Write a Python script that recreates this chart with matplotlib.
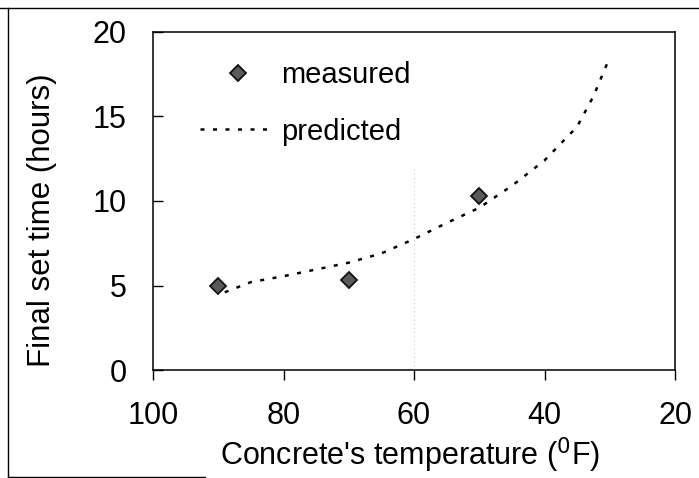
import matplotlib
matplotlib.use("Agg")
import matplotlib.pyplot as plt
from matplotlib.lines import Line2D

plt.rcParams['font.family'] = ['Liberation Sans', 'DejaVu Sans']

# measured final set times
meas_temp = [90, 70, 50]
meas_time = [5.0, 5.3, 10.3]

# predicted curve
pred_temp = [89, 85, 80, 75, 70, 65, 60, 55, 50, 45, 40, 35, 32.5, 30]
pred_time = [4.6, 5.2, 5.55, 5.95, 6.35, 6.9, 7.75, 8.7, 9.6, 10.9, 12.4, 14.4, 16.2, 18.5]

x_ticks = [100, 80, 60, 40, 20]
y_ticks = [0, 5, 10, 15, 20]

fig = plt.figure(figsize=(6.99, 4.78), dpi=100)
ax = fig.add_axes([153 / 699, 1 - 370 / 478, 522 / 699, 338 / 478])

# faint grid remnant at 60
ax.plot([60, 60], [0, 12], color='#aaaaaa', lw=0.6, ls=(0, (1, 4)), zorder=0)

ax.plot(pred_temp, pred_time, color='black', lw=1.8, ls=(0, (1.6, 3.4)),
        label='predicted')
ax.plot(meas_temp, meas_time, ls='none', marker='D', ms=8,
        markerfacecolor='#5a5a5a', markeredgecolor='#111111', mew=1.3,
        label='measured')

ax.set_xlim(100, 20)
ax.set_ylim(0, 20)
ax.set_xticks(x_ticks)
ax.set_yticks(y_ticks)
ax.tick_params(axis='x', direction='out', length=7, width=1, labelsize=22, pad=15)
ax.tick_params(axis='y', direction='in', length=7, width=1, labelsize=22, pad=19)
for s in ax.spines.values():
    s.set_linewidth(1.1)

ax.set_xlabel("Concrete's temperature ($^{0}$F)", fontsize=22)
ax.xaxis.set_label_coords(0.492, -0.195)
ax.set_ylabel('Final set time (hours)', fontsize=22.5)
ax.yaxis.set_label_coords(-0.184, 0.444)

h, l = ax.get_legend_handles_labels()
ax.legend([h[1], h[0]], [l[1], l[0]], loc='upper left', frameon=False,
          fontsize=21, bbox_to_anchor=(0.063, 0.957), borderpad=0,
          handlelength=2.55, labelspacing=0.98, handletextpad=0.2)

# scanned page frame (top, left and a bit of the bottom)
fig.add_artist(Line2D([0, 1], [1 - 8 / 478, 1 - 8 / 478], transform=fig.transFigure,
                      color='black', lw=1.0))
fig.add_artist(Line2D([8 / 699, 8 / 699], [1 - 8 / 478, 1 / 478], transform=fig.transFigure,
                      color='black', lw=1.0))
fig.add_artist(Line2D([8 / 699, 205 / 699], [1 / 478, 1 / 478], transform=fig.transFigure,
                      color='black', lw=1.0))

fig.savefig('out.png', dpi=100)
